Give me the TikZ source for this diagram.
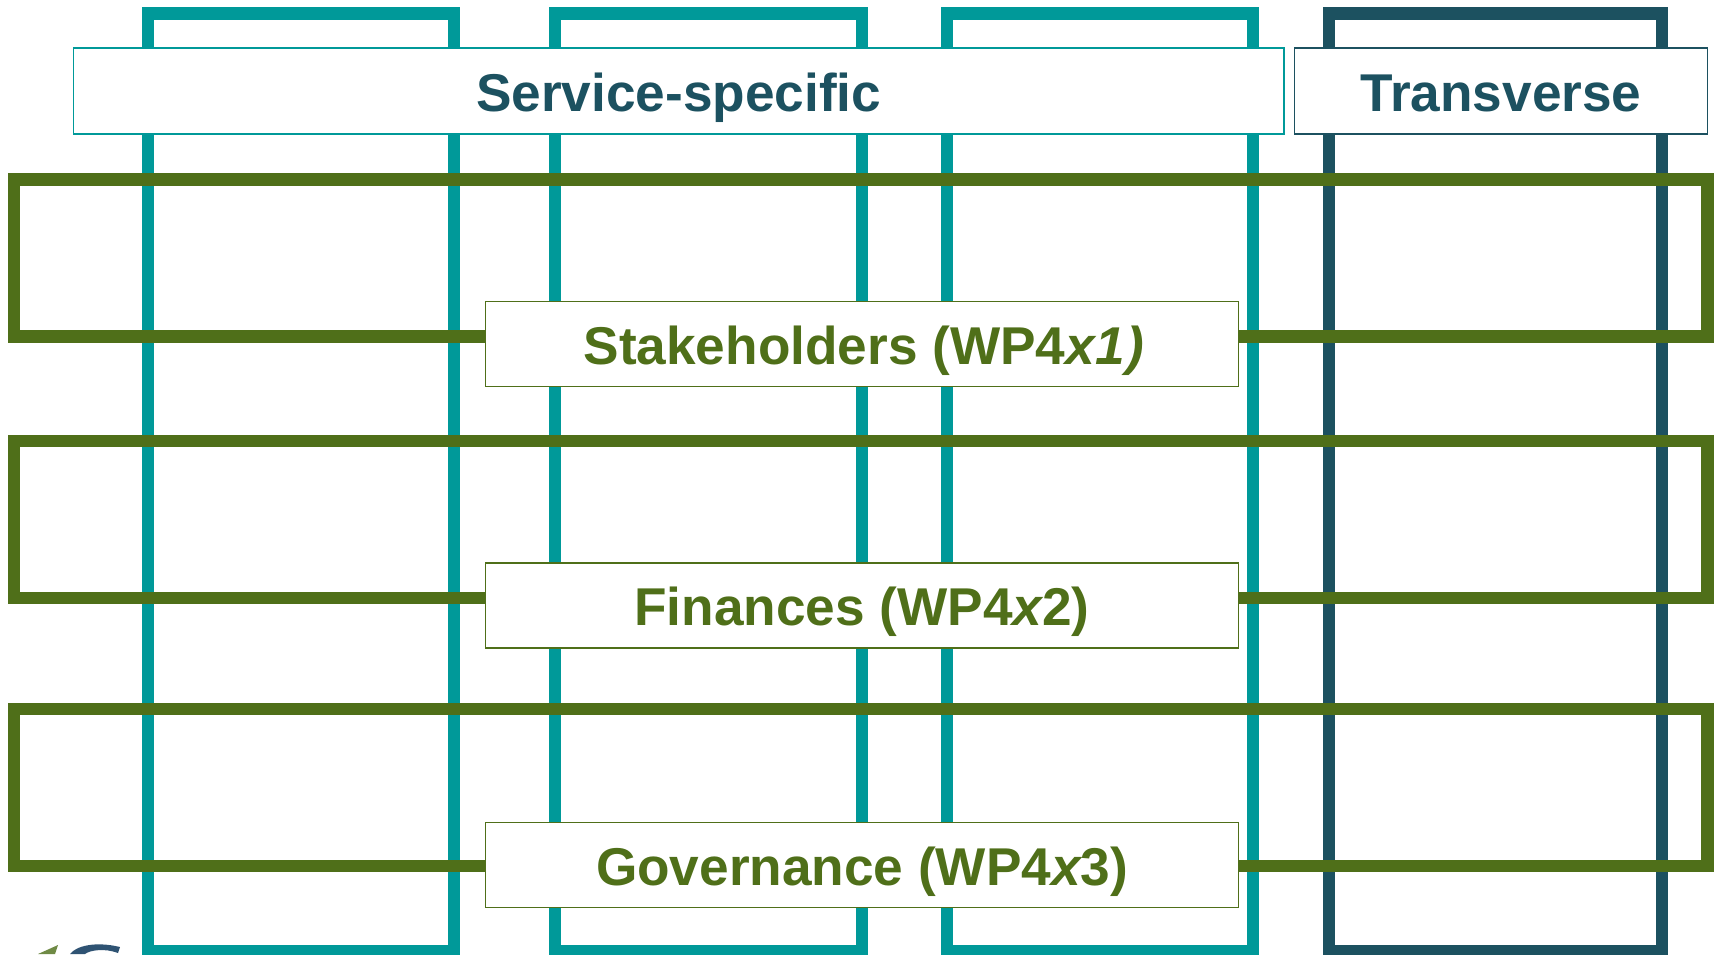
\documentclass[tikz,border=0pt]{standalone}
\usepackage{fontspec}
\setmainfont{Liberation Sans}
\definecolor{tealc}{HTML}{009999}
\definecolor{darkc}{HTML}{1C5160}
\definecolor{greenc}{HTML}{4F6F19}
\definecolor{logoblue}{HTML}{2F5373}
\definecolor{logogreen}{HTML}{6F8A45}
\tikzset{
  column/.style={draw=tealc,line width=12.5pt},
  darkcolumn/.style={draw=darkc,line width=12.5pt},
  band/.style={draw=greenc,line width=12.5pt},
  labeltext/.style={inner sep=0pt,text height=50pt,text depth=10pt,font=\fontsize{53.2}{60}\bfseries\selectfont},
  head/.style={labeltext,draw=tealc,fill=white,line width=1.8pt,text=darkc},
  darkhead/.style={head,draw=darkc},
  lab/.style={labeltext,draw=greenc,fill=white,line width=1.8pt,text=greenc,minimum width=753pt,minimum height=85pt}
}
\begin{document}
\begin{tikzpicture}[x=1pt,y=-1pt]
\useasboundingbox (0,0) rectangle (1715,954);
\clip (0,0) rectangle (1715,954);
\draw[column] (148,13.5) rectangle (454,951);
\draw[column] (555,13.5) rectangle (862,951);
\draw[column] (947,13.5) rectangle (1253,951);
\draw[darkcolumn] (1329,13.5) rectangle (1662,951);
\draw[band] (14,179.3) rectangle (1707.7,336.5);
\draw[band] (14,441) rectangle (1707.7,598);
\draw[band] (14,709) rectangle (1707.7,866);
\node[head,minimum width=1210.5pt,minimum height=86pt] (service) at (678.7,91.3) {Service-specific};
\node[darkhead,minimum width=413pt,minimum height=86pt] (transverse) at (1501,91.3) {Transverse};
\node[lab] (stake) at (862,344) {\kern4pt Stakeholders (WP4\textit{x1\kern2pt)}};
\node[lab] (fin) at (862,605.5) {Finances (WP4\textit{x}\kern-2pt 2)};
\node[lab] (gov) at (862,865) {Governance (WP4\textit{x}\kern-2pt 3)};
\fill[logogreen] (38,954) -- (58,945) -- (55,954) -- cycle;
\fill[logoblue] (70,954) .. controls (76,946) and (95,941) .. (120,947) -- (118,953) .. controls (105,948) and (90,950) .. (85,954) -- cycle;
\end{tikzpicture}
\end{document}
